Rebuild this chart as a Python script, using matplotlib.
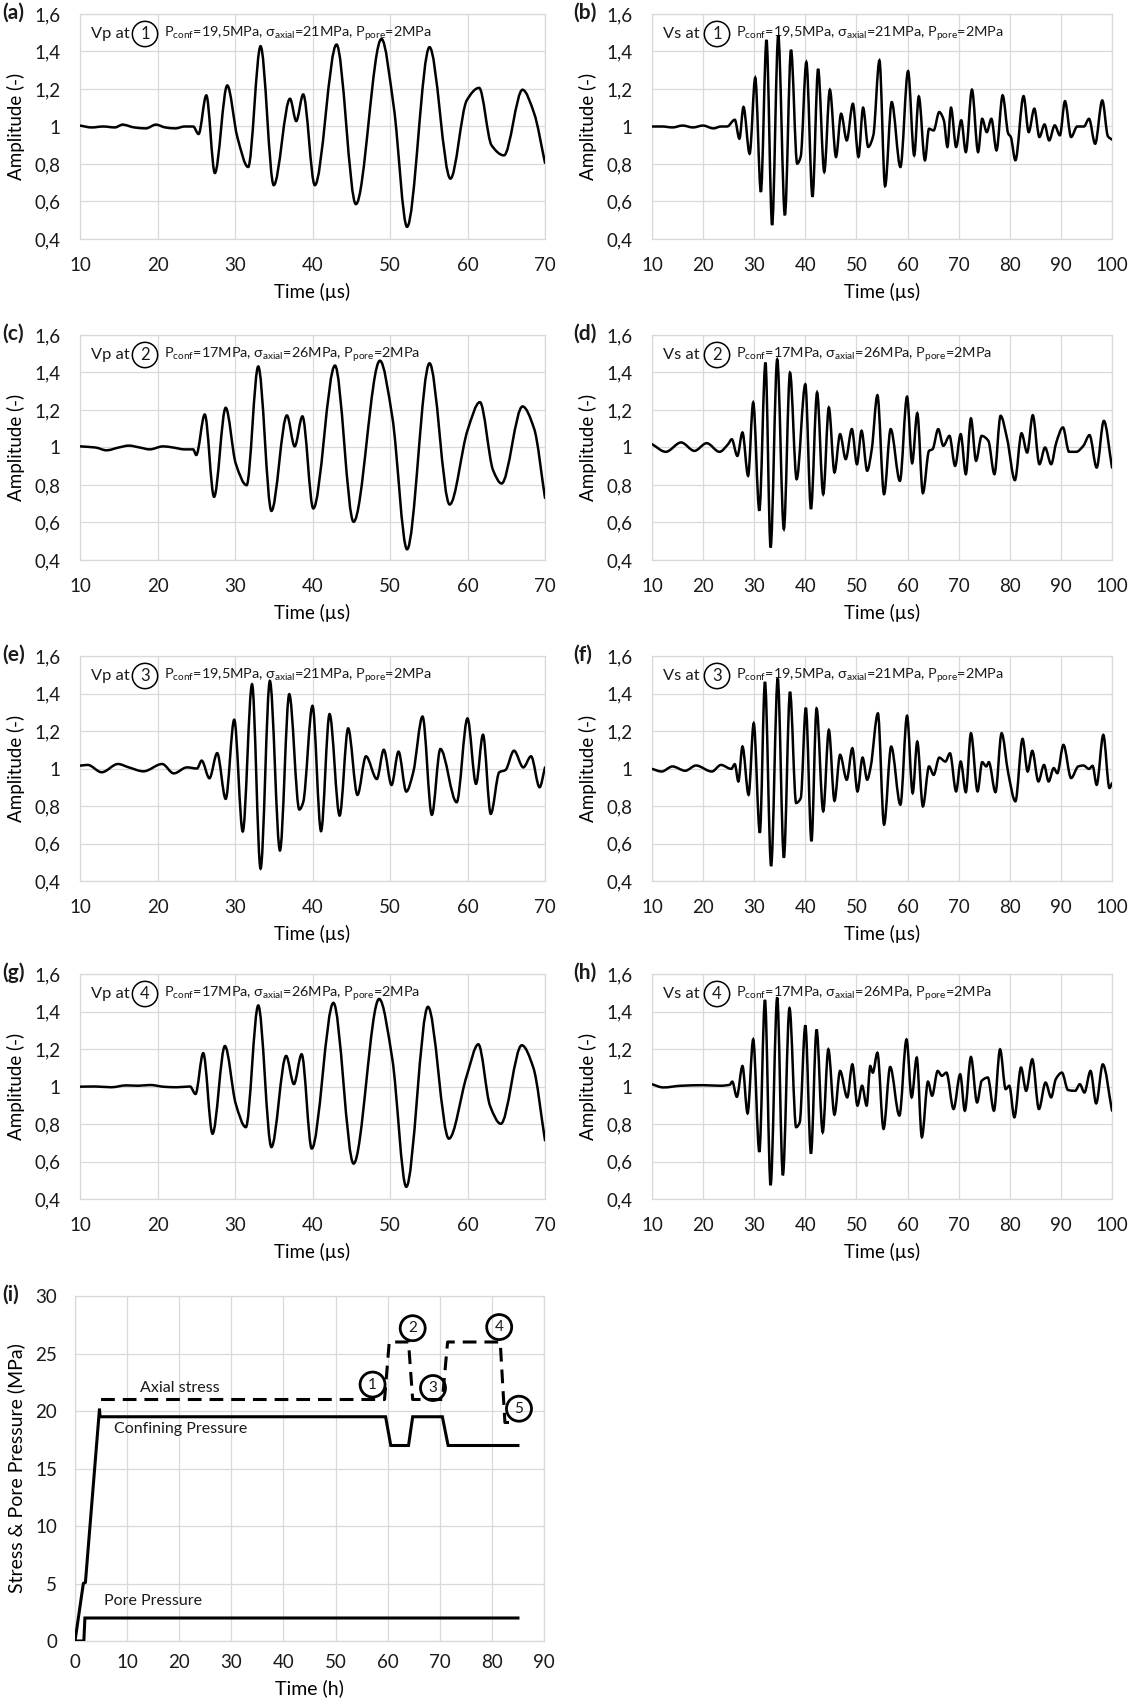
import numpy as np
import matplotlib
matplotlib.use("Agg")
import matplotlib.pyplot as plt
from matplotlib.path import Path
from matplotlib.patches import PathPatch
from matplotlib.ticker import FuncFormatter, MultipleLocator

plt.rcParams['font.family'] = ['Lato', 'DejaVu Sans']
plt.rcParams['mathtext.fontset'] = 'custom'
plt.rcParams['mathtext.rm'] = 'Lato'
plt.rcParams['mathtext.it'] = 'Lato:italic'
plt.rcParams['text.color'] = '#1a1a1a'

# --- waveform readings (time in us, normalised amplitude) ---
wave_a = [(10, 1.005), (11.5, 0.995), (13, 1.0), (14.5, 0.995), (15.5, 1.01), (17, 0.995), (18.5, 0.99),
          (19.8, 1.01), (21, 0.995), (22.3, 0.99), (23.5, 1.0), (24.6, 1.0), (25.3, 0.96), (26.3, 1.166),
          (27.4, 0.752), (29.0, 1.219), (30.3, 0.944), (31.7, 0.784), (33.3, 1.428), (35.0, 0.687),
          (37.1, 1.148), (37.9, 1.029), (38.8, 1.171), (40.3, 0.687), (43.1, 1.437), (45.6, 0.586),
          (48.9, 1.467), (50.5, 1.10), (52.2, 0.465), (55.1, 1.423), (57.8, 0.722), (59.9, 1.139),
          (61.5, 1.206), (63.1, 0.90), (64.7, 0.846), (67.1, 1.196), (68.6, 1.07), (70, 0.806)]

wave_b = [(10, 1.0), (12, 1.0), (14, 0.995), (16, 1.005), (18, 0.995), (20, 1.005), (22, 0.99), (23.5, 1.0),
          (24.7, 1.0), (26.2, 1.036), (27.1, 0.935), (27.9, 1.104), (29.1, 0.855), (30.2, 1.26), (31.3, 0.651),
          (32.4, 1.462), (33.5, 0.474), (34.7, 1.485), (36.0, 0.527), (37.2, 1.409), (38.4, 0.802), (39.1, 0.84),
          (40.2, 1.343), (41.4, 0.625), (42.5, 1.307), (43.7, 0.758), (44.8, 1.196), (46.0, 0.838), (47.0, 1.068),
          (48.1, 0.926), (49.3, 1.121), (50.4, 0.838), (51.3, 1.10), (52.3, 0.891), (53.3, 0.953), (54.5, 1.352),
          (55.6, 0.682), (56.9, 1.13), (58.6, 0.784), (60.1, 1.295), (61.3, 0.846), (62.2, 1.16), (63.4, 0.82),
          (64.2, 0.988), (65.1, 0.979), (66.2, 1.077), (67.1, 1.033), (67.8, 0.891), (68.5, 1.10), (69.5, 0.891),
          (70.5, 1.033), (71.4, 0.864), (72.6, 1.196), (73.8, 0.864), (74.6, 1.041), (75.5, 0.97), (76.4, 1.041),
          (77.4, 0.873), (78.6, 1.166), (79.7, 0.962), (80.2, 0.944), (81.1, 0.82), (82.7, 1.162), (83.7, 0.97),
          (84.8, 1.095), (85.8, 0.944), (86.8, 1.011), (87.7, 0.926), (88.8, 1.006), (89.8, 0.953), (90.8, 1.135),
          (92.0, 0.944), (93.2, 1.0), (94.5, 1.0), (95.5, 1.041), (96.7, 0.908), (98.1, 1.139), (99.2, 0.948),
          (100, 0.93)]

wave_c = [(10, 1.006), (12, 1.0), (13.4, 0.985), (15, 1.0), (16.3, 1.01), (17.7, 1.0), (19, 0.99), (20.7, 1.006),
          (22, 1.0), (23.5, 0.99), (24.6, 0.99), (25.0, 0.96), (26.1, 1.176), (27.3, 0.737), (28.8, 1.212),
          (30.1, 0.914), (31.5, 0.799), (33.0, 1.432), (34.7, 0.662), (36.7, 1.171), (37.7, 1.006), (38.7, 1.166),
          (40.1, 0.675), (42.9, 1.437), (45.3, 0.604), (48.7, 1.463), (50.3, 1.162), (52.2, 0.457), (55.1, 1.449),
          (57.7, 0.696), (60.0, 1.091), (61.6, 1.242), (63.3, 0.879), (64.4, 0.808), (67.1, 1.219), (68.6, 1.10),
          (70, 0.731)]

wave_d = [(10, 1.018), (12.7, 0.977), (15.7, 1.027), (18.3, 0.982), (20.7, 1.023), (23.2, 0.977), (24.9, 1.018),
          (25.6, 1.044), (26.7, 0.955), (27.7, 1.08), (28.8, 0.849), (29.8, 1.24), (31.0, 0.663), (32.2, 1.453),
          (33.2, 0.467), (34.5, 1.47), (35.8, 0.565), (37.0, 1.399), (38.3, 0.831), (40.0, 1.337), (41.1, 0.672),
          (42.3, 1.293), (43.5, 0.751), (44.6, 1.213), (45.7, 0.867), (46.8, 1.071), (47.9, 0.938), (49.1, 1.098),
          (50.1, 0.911), (51.0, 1.089), (52.1, 0.876), (53.0, 0.991), (54.1, 1.279), (55.4, 0.751), (56.7, 1.098),
          (58.5, 0.822), (59.9, 1.271), (60.9, 0.917), (61.9, 1.183), (63.0, 0.757), (64.2, 0.982), (64.9, 0.991),
          (66.0, 1.098), (67.0, 1.009), (68.2, 1.062), (69.3, 0.902), (70.4, 1.071), (71.4, 0.858), (72.4, 1.155),
          (73.4, 0.929), (74.5, 1.062), (75.8, 1.036), (77.0, 0.858), (78.2, 1.169), (79.5, 1.044), (81.0, 0.826),
          (82.3, 1.076), (83.4, 0.973), (84.5, 1.172), (85.8, 0.911), (86.9, 1.0), (88.1, 0.911), (89.1, 1.027),
          (90.4, 1.107), (91.6, 0.977), (93.0, 0.977), (94.4, 1.009), (95.6, 1.066), (97.0, 0.893), (98.4, 1.142),
          (100, 0.893)]

wave_e = [(10, 1.015), (11, 1.019), (12.8, 0.98), (14.9, 1.024), (16.3, 1.006), (18.2, 0.985), (20.6, 1.024),
          (22.1, 0.974), (23.8, 1.006), (25.1, 1.0), (25.7, 1.042), (26.7, 0.948), (27.7, 1.082), (28.8, 0.838),
          (29.9, 1.26), (31.0, 0.664), (32.2, 1.449), (33.3, 0.466), (34.5, 1.467), (35.8, 0.563), (37.0, 1.396),
          (38.3, 0.781), (38.8, 0.82), (40.0, 1.334), (41.1, 0.666), (42.2, 1.29), (43.5, 0.749), (44.6, 1.214),
          (45.8, 0.859), (46.9, 1.065), (48.3, 0.944), (49.2, 1.10), (50.2, 0.912), (51.1, 1.09), (52.1, 0.877),
          (53.0, 0.98), (54.2, 1.277), (55.4, 0.753), (56.5, 1.104), (58.6, 0.82), (60.0, 1.267), (61.1, 0.918),
          (62.0, 1.18), (63.0, 0.758), (64.1, 0.98), (64.9, 0.992), (66.0, 1.095), (67.2, 1.006), (68.2, 1.065),
          (69.3, 0.90), (70, 1.006)]

wave_f = [(10, 0.998), (11.9, 0.984), (14.0, 1.011), (16.5, 0.988), (18.6, 1.016), (21.7, 0.984), (23.5, 1.019),
          (25.5, 0.998), (26.2, 1.023), (26.9, 0.931), (27.7, 1.117), (28.9, 0.86), (29.9, 1.241), (31.1, 0.657),
          (32.1, 1.462), (33.3, 0.48), (34.6, 1.48), (35.8, 0.524), (37.0, 1.409), (38.2, 0.816), (39.1, 0.842),
          (40.1, 1.324), (41.2, 0.612), (42.2, 1.32), (43.5, 0.772), (44.6, 1.205), (45.7, 0.828), (46.8, 1.073),
          (48.1, 0.94), (49.2, 1.108), (50.2, 0.878), (51.2, 1.058), (52.1, 0.94), (52.8, 1.011), (54.2, 1.294),
          (55.4, 0.701), (56.8, 1.117), (58.6, 0.807), (59.9, 1.281), (61.0, 0.869), (61.9, 1.143), (63.0, 0.798),
          (64.2, 1.011), (65.1, 0.966), (66.2, 1.058), (67.4, 1.037), (68.3, 1.081), (69.5, 0.878), (70.4, 1.037),
          (71.4, 0.874), (72.4, 1.188), (73.7, 0.878), (74.6, 1.034), (75.4, 1.011), (75.9, 1.034), (77.2, 0.874),
          (78.4, 1.188), (79.7, 0.975), (81.1, 0.825), (82.5, 1.158), (83.5, 0.984), (84.4, 1.094), (85.6, 0.931),
          (86.7, 1.019), (87.6, 0.931), (88.6, 1.002), (89.3, 0.975), (90.5, 1.126), (92.0, 0.949), (93.4, 1.011),
          (94.4, 1.016), (95.5, 0.998), (96.2, 1.014), (97.0, 0.913), (98.3, 1.179), (99.5, 0.896), (100, 0.922)]

wave_g = [(10, 0.999), (12, 1.0), (14, 0.996), (16, 1.006), (17.5, 1.004), (19, 1.008), (21, 0.998),
          (22.5, 0.996), (24.2, 1.0), (24.9, 0.96), (25.9, 1.178), (27.1, 0.748), (28.7, 1.216), (30.1, 0.907),
          (31.4, 0.783), (33.0, 1.432), (34.7, 0.677), (36.6, 1.163), (37.6, 1.013), (38.6, 1.172), (39.9, 0.669),
          (42.7, 1.446), (45.3, 0.589), (48.6, 1.467), (50.3, 1.146), (52.1, 0.465), (54.9, 1.425), (57.6, 0.722),
          (59.9, 1.057), (61.4, 1.225), (62.9, 0.898), (64.3, 0.801), (67.0, 1.22), (68.5, 1.10), (70, 0.713)]

wave_h = [(10, 1.012), (12.2, 0.995), (15.7, 1.004), (19.9, 1.007), (23.4, 1.004), (25.2, 1.009), (25.7, 1.026),
          (26.6, 0.945), (27.7, 1.109), (28.7, 0.857), (29.8, 1.251), (31.0, 0.651), (32.1, 1.462), (33.2, 0.474),
          (34.5, 1.475), (35.6, 0.527), (36.9, 1.418), (38.2, 0.783), (38.9, 0.809), (40.0, 1.326), (41.1, 0.642),
          (42.2, 1.304), (43.4, 0.756), (44.5, 1.198), (45.7, 0.85), (46.8, 1.083), (48.2, 0.942), (49.2, 1.118),
          (50.2, 0.898), (51.1, 1.004), (52.0, 0.898), (52.7, 1.109), (53.2, 1.074), (54.1, 1.18), (55.3, 0.774),
          (56.6, 1.104), (58.4, 0.845), (59.8, 1.251), (60.8, 0.942), (61.8, 1.154), (62.8, 0.73), (64.0, 1.026),
          (64.8, 0.951), (65.9, 1.083), (66.7, 1.057), (67.6, 1.074), (69.0, 0.88), (70.3, 1.065), (71.2, 0.871),
          (72.4, 1.157), (73.6, 0.915), (74.5, 1.03), (75.7, 1.048), (76.9, 0.871), (78.1, 1.198), (79.2, 0.986),
          (79.9, 1.004), (80.9, 0.836), (82.2, 1.101), (83.2, 0.977), (84.4, 1.145), (85.7, 0.88), (87.0, 1.021),
          (88.1, 0.942), (89.0, 1.039), (90.2, 1.074), (91.4, 0.981), (92.8, 0.977), (93.7, 1.012), (94.6, 0.968),
          (95.8, 1.083), (96.9, 0.91), (98.2, 1.118), (100, 0.871)]

cond_1 = r"P$_{\mathrm{conf}}$=19,5MPa, σ$_{\mathrm{axial}}$=21MPa, P$_{\mathrm{pore}}$=2MPa"
cond_2 = r"P$_{\mathrm{conf}}$=17MPa, σ$_{\mathrm{axial}}$=26MPa, P$_{\mathrm{pore}}$=2MPa"

# --- stress path (time in h, MPa) ---
t_conf = [0, 1.6, 2.0, 4.7, 4.8, 59.6, 60.6, 64.0, 64.8, 70.5, 71.6, 85]
p_conf = [0, 5, 5.1, 20.2, 19.5, 19.5, 17, 17, 19.5, 19.5, 17, 17]
t_axial = [5, 59.4, 60.3, 64.0, 64.8, 70.5, 71.5, 81.6, 82.5, 83.4]
s_axial = [21, 21, 26, 26, 21, 21, 26, 26, 19, 19]
t_pore = [0, 1.7, 1.9, 85]
p_pore = [0, 0, 2, 2]
stage_x = [57.1, 64.8, 68.7, 81.4, 85.2]
stage_y = [22.3, 27.2, 22.0, 27.3, 20.2]

W, H = 1128, 1701
GRID = '#d9d9d9'
FS = 13.5
fig = plt.figure(figsize=(W / 100, H / 100), dpi=100)


def add_ax(l, t, r, b):
    return fig.add_axes([l / W, 1 - b / H, (r - l) / W, (b - t) / H])


def comma(v, pos):
    return f"{v:g}".replace('.', ',')


def smooth_path(pts):
    # Bezier path through the read points (like Excel's smoothed line)
    x = np.array([p[0] for p in pts], float)
    y = np.array([p[1] for p in pts], float)
    n = len(x)
    h = np.diff(x)
    s = np.diff(y) / h
    m = np.zeros(n)
    m[0], m[-1] = s[0], s[-1]
    for i in range(1, n - 1):
        if s[i - 1] * s[i] > 0:
            m[i] = 2 / (1 / s[i - 1] + 1 / s[i])
    verts = [(x[0], y[0])]
    codes = [Path.MOVETO]
    for i in range(n - 1):
        d = h[i] / 3
        verts += [(x[i] + d, y[i] + m[i] * d), (x[i + 1] - d, y[i + 1] - m[i + 1] * d), (x[i + 1], y[i + 1])]
        codes += [Path.CURVE4] * 3
    return Path(verts, codes)


def style_ax(ax):
    ax.grid(True, color=GRID, lw=0.9, zorder=0)
    ax.set_axisbelow(True)
    for sp in ax.spines.values():
        sp.set_color(GRID)
        sp.set_linewidth(0.9)
    ax.tick_params(length=0, labelsize=FS, colors='#1a1a1a')
    ax.tick_params(axis='y', pad=14)
    ax.tick_params(axis='x', pad=13)


def wave_panel(rect, pts, xmax, letter, kind, num, cond, letter_x):
    ax = add_ax(*rect)
    style_ax(ax)
    ax.add_patch(PathPatch(smooth_path(pts), fc='none', ec='black', lw=1.8, zorder=3, capstyle='round'))
    ax.set_xlim(10, xmax)
    ax.set_ylim(0.4, 1.6)
    ax.xaxis.set_major_locator(MultipleLocator(10))
    ax.yaxis.set_major_locator(MultipleLocator(0.2))
    ax.yaxis.set_major_formatter(FuncFormatter(comma))
    ax.set_xlabel('Time (µs)', fontsize=FS)
    ax.set_ylabel('Amplitude (-)', fontsize=FS)
    ax.xaxis.set_label_coords(0.5, -44 / (rect[3] - rect[1]))
    ax.yaxis.set_label_coords(-55 / (rect[2] - rect[0]), 0.5)
    ax.annotate(f'{kind} at', xy=(0, 1), xycoords='axes fraction', xytext=(11, -20),
                textcoords='offset pixels', fontsize=11.8, va='center', ha='left', zorder=1)
    ax.annotate(str(num), xy=(0, 1), xycoords='axes fraction', xytext=(65, -20),
                textcoords='offset pixels', fontsize=12, va='center', ha='center', zorder=1,
                bbox=dict(boxstyle='circle,pad=0.28', fc='none', ec='black', lw=1.1))
    ax.annotate(cond, xy=(0, 1), xycoords='axes fraction', xytext=(84, -20),
                textcoords='offset pixels', fontsize=10.4, va='center', ha='left', zorder=1)
    fig.text(letter_x / W, 1 - (rect[1] - 1) / H, f'({letter})', fontsize=15, fontweight='bold',
             va='center', ha='left')
    return ax


rows = [14, 335, 656, 974]
row_h = 225
L = (80, 545)
R = (652, 1112)
wave_panel((L[0], rows[0], L[1], rows[0] + row_h), wave_a, 70, 'a', 'Vp', 1, cond_1, 2)
wave_panel((R[0], rows[0], R[1], rows[0] + row_h), wave_b, 100, 'b', 'Vs', 1, cond_1, 573)
wave_panel((L[0], rows[1], L[1], rows[1] + row_h), wave_c, 70, 'c', 'Vp', 2, cond_2, 2)
wave_panel((R[0], rows[1], R[1], rows[1] + row_h), wave_d, 100, 'd', 'Vs', 2, cond_2, 573)
wave_panel((L[0], rows[2], L[1], rows[2] + row_h), wave_e, 70, 'e', 'Vp', 3, cond_1, 2)
wave_panel((R[0], rows[2], R[1], rows[2] + row_h), wave_f, 100, 'f', 'Vs', 3, cond_1, 573)
wave_panel((L[0], rows[3], L[1], rows[3] + row_h), wave_g, 70, 'g', 'Vp', 4, cond_2, 2)
wave_panel((R[0], rows[3], R[1], rows[3] + row_h), wave_h, 100, 'h', 'Vs', 4, cond_2, 573)

# --- (i) stress path ---
rect_i = (75, 1296, 544, 1641)
ax = add_ax(*rect_i)
style_ax(ax)
ax.tick_params(axis='y', pad=13)
ax.tick_params(axis='x', pad=9)
ax.plot(t_conf, p_conf, color='black', lw=2.2, zorder=3, solid_joinstyle='miter')
ax.plot(t_pore, p_pore, color='black', lw=2.2, zorder=3, solid_joinstyle='miter')
ax.plot(t_axial, s_axial, color='black', lw=2.2, zorder=3, dashes=(4.5, 2.6))
for k, (x, y) in enumerate(zip(stage_x, stage_y), start=1):
    ax.annotate(str(k), xy=(x, y), fontsize=11, ha='center', va='center', zorder=4,
                bbox=dict(boxstyle='circle,pad=0.36', fc='none', ec='black', lw=2.0))
ax.text(12.4, 22.0, 'Axial stress', fontsize=11.5, va='center', ha='left')
ax.text(7.4, 18.4, 'Confining Pressure', fontsize=11.5, va='center', ha='left')
ax.text(5.5, 3.5, 'Pore Pressure', fontsize=11.5, va='center', ha='left')
ax.set_xlim(0, 90)
ax.set_ylim(0, 30)
ax.xaxis.set_major_locator(MultipleLocator(10))
ax.yaxis.set_major_locator(MultipleLocator(5))
ax.set_xlabel('Time (h)', fontsize=FS + 0.5)
ax.set_ylabel('Stress & Pore Pressure (MPa)', fontsize=FS + 0.5)
ax.xaxis.set_label_coords(0.5, -38 / (rect_i[3] - rect_i[1]))
ax.yaxis.set_label_coords(-50 / (rect_i[2] - rect_i[0]), 0.5)
fig.text(2 / W, 1 - (rect_i[1] - 1) / H, '(i)', fontsize=15, fontweight='bold', va='center', ha='left')

fig.savefig('out.png', dpi=100)
